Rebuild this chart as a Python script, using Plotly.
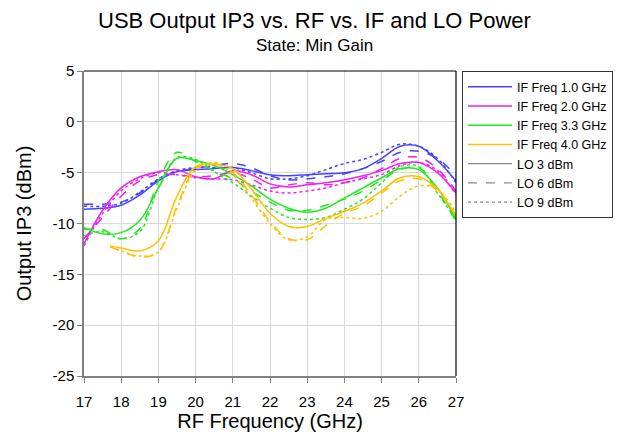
import plotly.graph_objects as go

# ---------------- data ----------------
rf_ghz = [17, 17.5, 18, 18.5, 19, 19.5, 20, 20.5, 21, 21.5, 22, 22.5, 23, 23.5, 24, 24.5, 25, 25.5, 26, 26.5, 27]
rf_ghz_if4 = [17.7, 18, 18.5, 19, 19.5, 20, 20.5, 21, 21.5, 22, 22.5, 23, 23.5, 24, 24.5, 25, 25.5, 26, 26.5, 27]

if1_lo3 = [-8.6, -8.5, -8.2, -7.2, -5.8, -4.9, -4.7, -4.6, -4.5, -4.8, -5.2, -5.3, -5.2, -5.1, -5.0, -4.6, -3.6, -2.4, -2.4, -3.8, -5.8]
if1_lo6 = [-8.1, -8.1, -7.9, -7.0, -5.7, -4.9, -4.6, -4.3, -4.1, -4.5, -5.3, -5.7, -5.6, -5.4, -5.1, -4.6, -3.9, -3.0, -2.9, -3.6, -5.3]
if1_lo9 = [-8.3, -8.3, -8.0, -6.9, -5.6, -4.8, -4.5, -4.5, -4.5, -5.0, -5.6, -5.6, -5.3, -4.7, -4.1, -3.7, -3.0, -2.2, -2.4, -3.6, -6.0]

if2_lo3 = [-12.0, -8.7, -6.5, -5.4, -4.9, -4.7, -5.4, -5.6, -4.8, -5.2, -6.1, -6.4, -6.2, -6.0, -5.7, -5.3, -4.8, -4.1, -4.0, -5.0, -7.0]
if2_lo6 = [-11.5, -9.4, -7.3, -5.8, -5.2, -5.2, -5.4, -5.3, -5.0, -5.6, -6.5, -6.2, -6.0, -6.2, -6.0, -5.5, -4.6, -3.6, -3.5, -4.6, -6.8]
if2_lo9 = [-12.2, -9.0, -6.8, -5.6, -5.0, -5.2, -5.5, -5.6, -5.7, -6.2, -6.8, -7.0, -6.8, -6.5, -6.0, -5.6, -5.2, -4.3, -4.0, -4.8, -7.2]

if33_lo3 = [-10.4, -11.0, -10.9, -9.7, -6.5, -3.6, -3.8, -4.3, -5.2, -6.3, -7.6, -8.5, -8.9, -8.5, -7.5, -6.5, -5.5, -4.6, -4.7, -6.5, -9.6]
if33_lo6 = [-10.6, -10.6, -11.5, -10.5, -5.8, -3.0, -3.9, -4.8, -5.6, -6.8, -7.9, -8.7, -8.7, -8.2, -7.6, -6.8, -5.7, -4.7, -4.5, -6.8, -9.8]
if33_lo9 = [-11.2, -10.8, -11.5, -10.8, -6.5, -3.5, -3.7, -4.9, -6.0, -7.3, -8.5, -9.4, -9.6, -9.4, -8.6, -7.6, -6.0, -4.4, -4.4, -7.0, -9.6]

if4_lo3 = [-12.2, -12.4, -12.7, -11.7, -7.3, -4.4, -4.2, -4.6, -6.6, -9.0, -10.3, -10.3, -9.5, -8.8, -8.0, -6.8, -5.5, -5.4, -6.6, -9.3]
if4_lo6 = [-12.3, -12.7, -13.3, -12.8, -8.3, -4.6, -4.1, -5.0, -7.2, -9.8, -11.5, -11.6, -10.2, -9.0, -8.3, -7.0, -5.8, -5.6, -6.8, -9.2]
if4_lo9 = [-12.3, -12.7, -13.2, -12.8, -8.5, -4.8, -4.0, -5.2, -7.5, -10.0, -11.6, -11.3, -9.6, -9.4, -9.5, -8.8, -7.3, -6.3, -6.6, -9.0]

if_labels = ["IF Freq 1.0 GHz", "IF Freq 2.0 GHz", "IF Freq 3.3 GHz", "IF Freq 4.0 GHz"]
lo_labels = ["LO 3 dBm", "LO 6 dBm", "LO 9 dBm"]
y_ticks = [5, 0, -5, -10, -15, -20, -25]
x_ticks = [17, 18, 19, 20, 21, 22, 23, 24, 25, 26, 27]
title_text = "USB Output IP3 vs. RF vs. IF and LO Power"
subtitle_text = "State: Min Gain"

# ---------------- styles ----------------
if_colors = ["#4444ff", "#f020f0", "#22e822", "#ffc000"]
lo_dashes = ["solid", "dash", "dot"]
FONT = "Liberation Sans, Arial, sans-serif"

groups = [
    (rf_ghz, [if1_lo3, if1_lo6, if1_lo9]),
    (rf_ghz, [if2_lo3, if2_lo6, if2_lo9]),
    (rf_ghz, [if33_lo3, if33_lo6, if33_lo9]),
    (rf_ghz_if4, [if4_lo3, if4_lo6, if4_lo9]),
]

fig = go.Figure()
for gi, (xs, series) in enumerate(groups):
    for li, ys in enumerate(series):
        fig.add_trace(go.Scatter(
            x=xs, y=ys, mode="lines", showlegend=False,
            line=dict(color=if_colors[gi], dash=lo_dashes[li], width=1.5, shape="spline", smoothing=1.0),
            hoverinfo="x+y"))

# legend entries
for gi, lab in enumerate(if_labels):
    fig.add_trace(go.Scatter(x=[None], y=[None], mode="lines", name=lab,
                             line=dict(color=if_colors[gi], width=1.5)))
for li, lab in enumerate(lo_labels):
    fig.add_trace(go.Scatter(x=[None], y=[None], mode="lines", name=lab,
                             line=dict(color="#888888", width=1.2, dash=lo_dashes[li])))

# page has an 8px body margin: plot area should land at x 84..456, y 71..376 of the window
fig.update_layout(
    width=632, height=441,
    paper_bgcolor="white", plot_bgcolor="white",
    margin=dict(l=76, r=184, t=63, b=73, autoexpand=False),
    font=dict(family=FONT, color="black"),
    showlegend=True,
    legend=dict(x=1.016, y=1.0, xanchor="left", yanchor="top",
                bordercolor="#333333", borderwidth=1, bgcolor="white",
                font=dict(size=12.5, family=FONT), itemwidth=44, tracegroupgap=0),
)

# title and subtitle (centred on the page)
page_center_x = (306 - 76) / 372
fig.add_annotation(text=title_text, xref="paper", yref="paper", x=page_center_x, y=1.164,
                   xanchor="center", yanchor="middle", showarrow=False,
                   font=dict(size=22, family=FONT, color="black"))
fig.add_annotation(text=subtitle_text, xref="paper", yref="paper", x=page_center_x, y=1.0836,
                   xanchor="center", yanchor="middle", showarrow=False,
                   font=dict(size=17, family=FONT, color="black"))

fig.update_xaxes(range=[17, 27], tickvals=x_ticks, ticktext=[str(v) for v in x_ticks],
                 automargin=False,
                 showgrid=True, gridcolor="#d9d9d9", gridwidth=1,
                 showline=True, linecolor="#808080", linewidth=1.5,
                 ticks="outside", ticklen=5, tickcolor="#808080", ticklabelstandoff=6,
                 tickfont=dict(size=15, family=FONT), zeroline=False,
                 title=dict(text="RF Frequency (GHz)", font=dict(size=20, family=FONT), standoff=3))
fig.update_yaxes(range=[-25, 5], tickvals=y_ticks, ticktext=[str(v) for v in y_ticks],
                 automargin=False,
                 showgrid=True, gridcolor="#d9d9d9", gridwidth=1,
                 showline=True, linecolor="#808080", linewidth=1.5,
                 ticks="outside", ticklen=5, tickcolor="#808080",
                 tickfont=dict(size=15, family=FONT), zeroline=False,
                 title=dict(text="Output IP3 (dBm)", font=dict(size=20, family=FONT), standoff=16))

# black frame on top and right
fig.add_shape(type="line", xref="paper", yref="paper", x0=0, x1=1, y0=1, y1=1,
              line=dict(color="black", width=1.2))
fig.add_shape(type="line", xref="paper", yref="paper", x0=1, x1=1, y0=0, y1=1,
              line=dict(color="black", width=1.2))

fig.write_html("out.html")
